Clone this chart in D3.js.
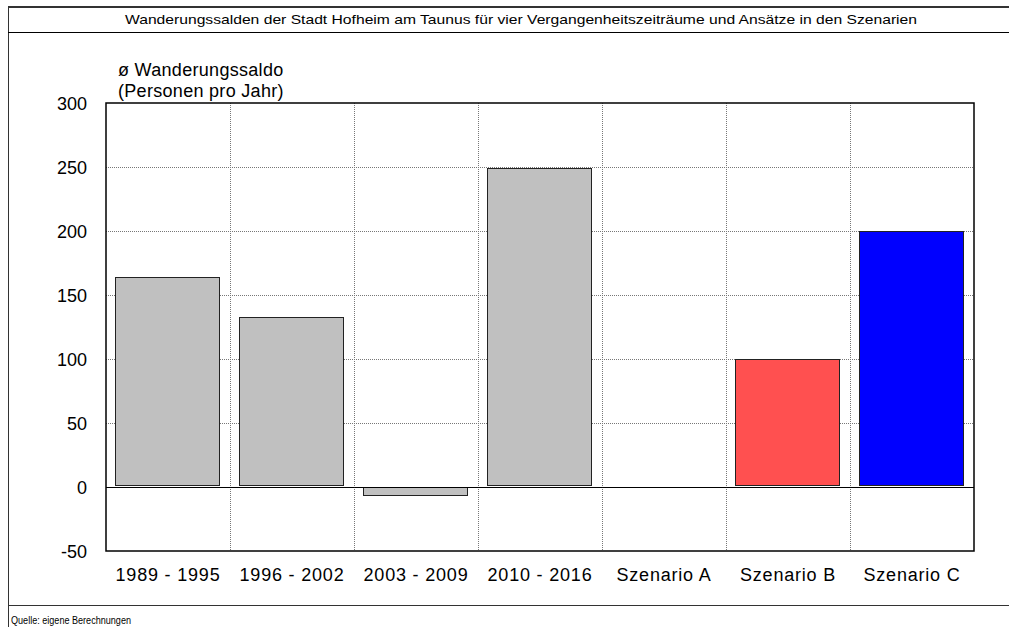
<!DOCTYPE html>
<html>
<head>
<meta charset="utf-8">
<script src="https://cdn.jsdelivr.net/npm/d3@7"></script>
<style>
  html, body { margin: 0; padding: 0; background: #fff; }
  svg { display: block; font-family: "Liberation Sans", Arial, sans-serif; }
</style>
</head>
<body>
<svg id="chart" width="1009" height="627"></svg>
<script>
// Average annual net migration per period / scenario
const categories = ["1989 - 1995", "1996 - 2002", "2003 - 2009", "2010 - 2016", "Szenario A", "Szenario B", "Szenario C"];
const saldo = [164, 133, -6, 249, 0, 100, 200];
const barColors = ["#c0c0c0", "#c0c0c0", "#c0c0c0", "#c0c0c0", "#c0c0c0", "#ff5050", "#0000ff"];
const yTicks = [-50, 0, 50, 100, 150, 200, 250, 300];

const titleText = "Wanderungssalden der Stadt Hofheim am Taunus für vier Vergangenheitszeiträume und Ansätze in den Szenarien";
const yTitle = ["ø Wanderungssaldo", "(Personen pro Jahr)"];
const sourceText = "Quelle: eigene Berechnungen";

const svg = d3.select("#chart");
const W = 1009, H = 627;
const plot = { left: 106, right: 974, top: 103, bottom: 551 };

// Outer frame, title box and footer separator
svg.append("line").attr("x1", 8.5).attr("x2", 8.5).attr("y1", 7).attr("y2", H)
  .attr("stroke", "#333").attr("stroke-width", 1);
svg.append("line").attr("x1", 8).attr("x2", W).attr("y1", 7).attr("y2", 7)
  .attr("stroke", "#333").attr("stroke-width", 2);
svg.append("line").attr("x1", 8).attr("x2", W).attr("y1", 32.5).attr("y2", 32.5)
  .attr("stroke", "#000").attr("stroke-width", 1);
svg.append("line").attr("x1", 8).attr("x2", W).attr("y1", 605.5).attr("y2", 605.5)
  .attr("stroke", "#333").attr("stroke-width", 1);

svg.append("text").attr("x", 521).attr("y", 24)
  .attr("text-anchor", "middle").attr("font-size", 13).attr("fill", "#000")
  .attr("textLength", 792).attr("lengthAdjust", "spacingAndGlyphs")
  .text(titleText);

svg.append("text").attr("x", 11).attr("y", 624)
  .attr("font-size", 10.5).attr("fill", "#000")
  .attr("textLength", 120).attr("lengthAdjust", "spacingAndGlyphs")
  .text(sourceText);

// Scales
const x = d3.scaleBand().domain(categories)
  .range([plot.left - 1.5, plot.right - 1.5]).paddingInner(0.165).paddingOuter(0.0825);
const y = d3.scaleLinear().domain([-50, 300]).range([plot.bottom, plot.top]);
const step = (plot.right - plot.left) / categories.length;

// Horizontal grid lines
const grid = svg.append("g");
grid.selectAll("line.h").data(yTicks.filter(t => t !== -50 && t !== 300 && t !== 0))
  .join("line").attr("class", "h")
  .attr("x1", plot.left).attr("x2", plot.right)
  .attr("y1", d => Math.round(y(d)) + 0.5).attr("y2", d => Math.round(y(d)) + 0.5)
  .attr("stroke", "#777").attr("stroke-width", 1).attr("stroke-dasharray", "1,1");

// Vertical grid lines at category boundaries
const bounds = d3.range(1, categories.length).map(i => plot.left + i * step);
grid.selectAll("line.v").data(bounds)
  .join("line").attr("class", "v")
  .attr("x1", d => Math.round(d) + 0.5).attr("x2", d => Math.round(d) + 0.5)
  .attr("y1", plot.top).attr("y2", plot.bottom)
  .attr("stroke", "#777").attr("stroke-width", 1).attr("stroke-dasharray", "1,1");

// Bars (positive bars stop just above the zero line)
svg.append("g").selectAll("rect").data(categories.map((c, i) => ({ c, v: saldo[i], col: barColors[i] })))
  .join("rect")
  .filter(d => d.v !== 0)
  .attr("x", d => Math.round(x(d.c)) + 0.5)
  .attr("width", Math.round(x.bandwidth()))
  .attr("y", d => Math.round(y(Math.max(0, d.v))) + 0.5)
  .attr("height", d => Math.abs(Math.round(y(d.v)) - Math.round(y(0))) - (d.v > 0 ? 2 : 0))
  .attr("fill", d => d.col)
  .attr("stroke", "#222").attr("stroke-width", 1);

// Zero line
svg.append("line")
  .attr("x1", plot.left).attr("x2", plot.right)
  .attr("y1", Math.round(y(0)) + 0.5).attr("y2", Math.round(y(0)) + 0.5)
  .attr("stroke", "#000").attr("stroke-width", 1.2);

// Plot frame
svg.append("rect")
  .attr("x", plot.left).attr("y", plot.top)
  .attr("width", plot.right - plot.left).attr("height", plot.bottom - plot.top)
  .attr("fill", "none").attr("stroke", "#000").attr("stroke-width", 1.5);

// Y axis labels
const yAxis = d3.axisLeft(y).tickValues(yTicks).tickSize(0).tickPadding(19)
  .tickFormat(d => String(d));
const gy = svg.append("g").attr("transform", `translate(${plot.left},0)`).call(yAxis);
gy.select(".domain").remove();
gy.selectAll("text").attr("font-size", 18).attr("font-family", "Liberation Sans, Arial, sans-serif")
  .attr("fill", "#000").attr("dy", "0.35em");

// X axis labels
const xAxis = d3.axisBottom(x).tickSize(0).tickPadding(17);
const gx = svg.append("g").attr("transform", `translate(1.5,${plot.bottom})`).call(xAxis);
gx.select(".domain").remove();
gx.selectAll("text").attr("font-size", 18).attr("font-family", "Liberation Sans, Arial, sans-serif")
  .attr("fill", "#000").attr("letter-spacing", 0.8);

// Y axis title
svg.append("g").selectAll("text").data(yTitle).join("text")
  .attr("x", 118).attr("y", (d, i) => 76 + i * 21)
  .attr("font-size", 18).attr("fill", "#000").attr("letter-spacing", 0.3)
  .text(d => d);
</script>
</body>
</html>
